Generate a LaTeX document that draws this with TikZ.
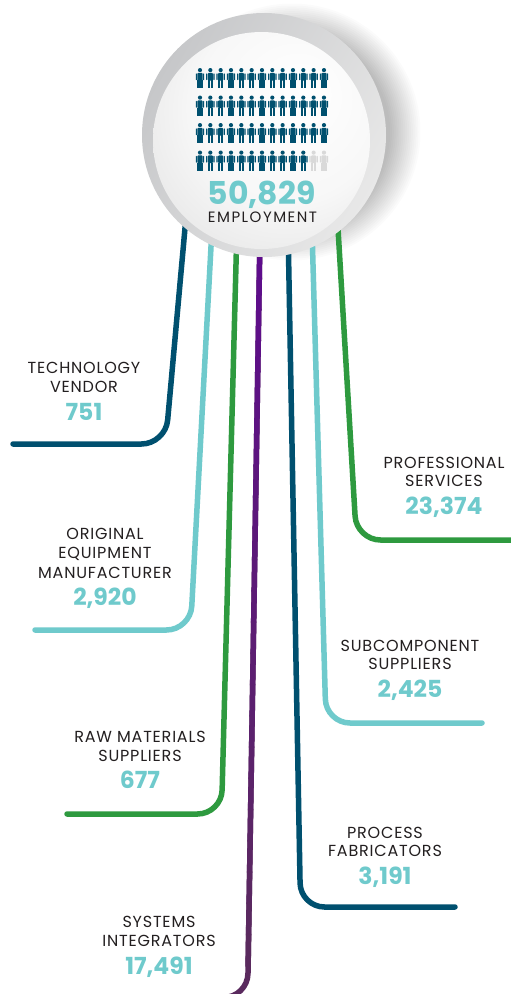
\documentclass[tikz,border=0pt]{standalone}
\usepackage{fontspec}
\setmainfont{Poppins}
\newfontfamily\lblfont[LetterSpace=5]{Poppins}
\newfontfamily\empfont[LetterSpace=10]{Poppins}
\usetikzlibrary{calc}
\definecolor{dbluec}{HTML}{00506F}
\definecolor{tealc}{HTML}{6FCACC}
\definecolor{greenc}{HTML}{2E9A3F}
\definecolor{purpA}{HTML}{5E0B8E}
\definecolor{purpB}{HTML}{5A2A5E}
\definecolor{txtc}{HTML}{231F20}
\definecolor{ghostc}{HTML}{D9D9D9}
\definecolor{ringA}{HTML}{C6C7C9}
\definecolor{ringB}{HTML}{E8E8E8}
\pgfdeclareradialshading{facesh}{\pgfpoint{10bp}{12bp}}{color(0bp)=(white);color(22bp)=(white!97!black);color(42bp)=(black!12);color(62bp)=(black!20)}
\newcommand\drawperson[3]{%
  \begin{scope}[shift={(#1,#2)}]
    \fill[#3] (0,2.1) circle[radius=2.1pt];
    \fill[#3,rounded corners=1pt] (-2.7,4.9) rectangle (2.7,12.6);
    \fill[#3,rounded corners=0.6pt] (-4.2,5.3) rectangle (-3.1,12.2);
    \fill[#3,rounded corners=0.6pt] (3.1,5.3) rectangle (4.2,12.2);
    \fill[#3] (-2.7,12.3) rectangle (-0.35,20);
    \fill[#3] (0.35,12.3) rectangle (2.7,20);
  \end{scope}}
\begin{document}
\begin{tikzpicture}[x=1pt,y=-1pt,
  lbl/.style={font=\lblfont\fontsize{16}{19}\selectfont, text=txtc, anchor=base, inner sep=0pt},
  num/.style={font=\fontsize{23.5}{26}\selectfont\bfseries, text=tealc, anchor=base, inner sep=0pt},
  conn/.style={line width=5.5pt, rounded corners=24pt, line cap=round},
]
\useasboundingbox (0,0) rectangle (511,994);
\fill[white] (0,0) rectangle (511,994);

% shadow
\foreach \i in {0,...,16}{
  \fill[black, opacity=0.015] (292,132) circle[radius={(98+\i*1.9)*1pt}];
}

% connectors
\coordinate (tvS) at (186.2,215); \coordinate (tvC) at (165.5,444); \coordinate (tvE) at (13,444);
\coordinate (oeS) at (212.7,215); \coordinate (oeC) at (190.5,630); \coordinate (oeE) at (35,630);
\coordinate (rmS) at (237.3,215); \coordinate (rmC) at (221.5,814); \coordinate (rmE) at (67,814);
\coordinate (siS) at (260.3,215); \coordinate (siC) at (247.6,997.5); \coordinate (siE) at (150,997.5);
\coordinate (siM) at (248.1,965);
\coordinate (pfS) at (287.8,215); \coordinate (pfC) at (300.5,907); \coordinate (pfE) at (455,907);
\coordinate (scS) at (311.6,215); \coordinate (scC) at (326,723); \coordinate (scE) at (482,723);
\coordinate (psS) at (337.2,215); \coordinate (psC) at (356.5,540); \coordinate (psE) at (516,540);

\draw[conn, dbluec] (tvS) -- (tvC) -- (tvE);
\draw[conn, tealc] (oeS) -- (oeC) -- (oeE);
\draw[conn, greenc] (rmS) -- (rmC) -- (rmE);
\draw[conn, purpB] (siS) -- (siC) -- (siE);
\foreach \i in {0,...,23}{
  \pgfmathsetmacro\pa{100-\i*100/23}
  \draw[line width=5.5pt, purpA!\pa!purpB] ($(siS)!{\i/24}!(siM)$) -- ($(siS)!{(\i+1.05)/24}!(siM)$);
}
\draw[conn, dbluec] (pfS) -- (pfC) -- (pfE);
\draw[conn, tealc] (scS) -- (scC) -- (scE);
\draw[conn, greenc] (psS) -- (psC) -- (psE);

% hub
\node[circle, minimum size=244pt, inner sep=0pt] (hub) at (264,135) {};
\shade[left color=ringA, right color=ringB, shading angle=60] (hub.center) circle[radius=122pt];
\shade[shading=facesh] (261.5,140.5) circle[radius=108.5pt];

% people
\foreach \r in {0,1,2}{
  \foreach \c in {0,...,12}{
    \drawperson{200+\c*10.33}{68+\r*27.5}{dbluec}
  }
}
\foreach \c in {0,...,10}{ \drawperson{200+\c*10.33}{150.5}{dbluec} }
\foreach \c in {11,12}{ \drawperson{200+\c*10.33}{150.5}{ghostc} }

\node[num, font=\fontsize{31.5}{34}\selectfont\bfseries, text height=22pt, text depth=2pt] (totn) at (261.5,204) {50,829};
\node[lbl, font=\empfont\fontsize{15}{16}\selectfont, text height=10.5pt, text depth=0pt] (totl) at (262.5,222.7) {EMPLOYMENT};

% labels
\node[lbl] (tv1) at (84,373) {TECHNOLOGY};
\node[lbl] (tv2) at (84,392) {VENDOR};
\node[num] (tvn) at (84,420) {751};

\node[lbl] (oe1) at (105,539) {ORIGINAL};
\node[lbl] (oe2) at (105,558) {EQUIPMENT};
\node[lbl] (oe3) at (105,578) {MANUFACTURER};
\node[num] (oen) at (105,605) {2,920};

\node[lbl] (rm1) at (140,742) {RAW MATERIALS};
\node[lbl] (rm2) at (140,761) {SUPPLIERS};
\node[num] (rmn) at (140,788) {677};

\node[lbl] (si1) at (159,927.5) {SYSTEMS};
\node[lbl] (si2) at (159,946.7) {INTEGRATORS};
\node[num] (sin) at (159,974) {17,491};

\node[lbl] (pf1) at (385,838) {PROCESS};
\node[lbl] (pf2) at (385,856.7) {FABRICATORS};
\node[num] (pfn) at (385,884) {3,191};

\node[lbl] (sc1) at (410,651) {SUBCOMPONENT};
\node[lbl] (sc2) at (410,669) {SUPPLIERS};
\node[num] (scn) at (410,697.7) {2,425};

\node[lbl] (ps1) at (444,468) {PROFESSIONAL};
\node[lbl] (ps2) at (444,486.7) {SERVICES};
\node[num] (psn) at (444,514) {23,374};
\end{tikzpicture}
\end{document}
